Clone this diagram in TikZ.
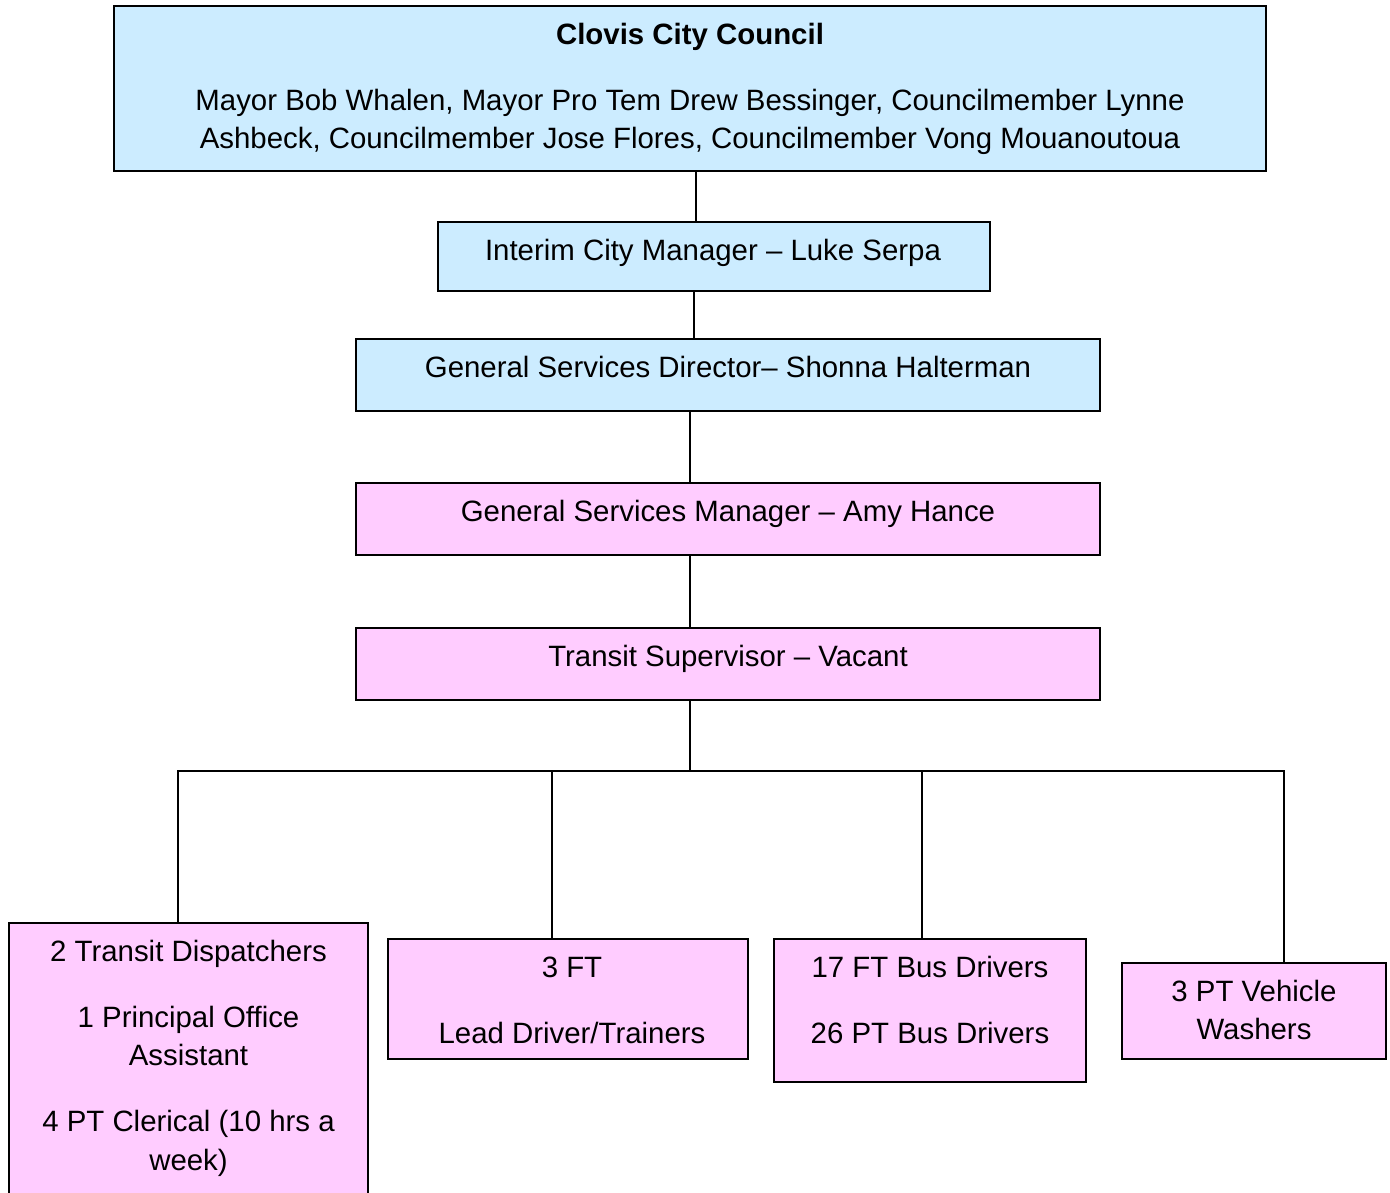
\documentclass[tikz,border=0pt]{standalone}
\usepackage{fontspec}
\setmainfont{Liberation Sans}
\definecolor{boxblue}{HTML}{CCECFF}
\definecolor{boxpink}{HTML}{FFCCFF}
\newcommand{\firststrut}{\rule{0pt}{30pt}}
\begin{document}
\begin{tikzpicture}[x=1pt,y=-1pt,
  orgbox/.style={draw=black, line width=2pt, inner sep=0pt, rectangle},
  bluebox/.style={orgbox, fill=boxblue},
  pinkbox/.style={orgbox, fill=boxpink},
  txt/.style={anchor=north, inner sep=0pt, align=center, font=\fontsize{29.4}{38.5}\selectfont},
  conn/.style={draw=black, line width=2pt}]
\useasboundingbox (0,0) rectangle (1390,1192);
\fill[white] (0,0) rectangle (1390,1192);

% boxes
\node[bluebox, minimum width=1152pt, minimum height=165pt] (council) at (690,88.5) {};
\node[bluebox, minimum width=552pt, minimum height=69pt] (interim) at (714,256.5) {};
\node[bluebox, minimum width=744pt, minimum height=72pt] (gsd) at (728,375) {};
\node[pinkbox, minimum width=744pt, minimum height=72pt] (gsm) at (728,519) {};
\node[pinkbox, minimum width=744pt, minimum height=72pt] (ts) at (728,664) {};
\node[pinkbox, minimum width=359pt, minimum height=287pt] (b1) at (188.5,1066.5) {};
\node[pinkbox, minimum width=360pt, minimum height=120pt] (b2) at (568,999) {};
\node[pinkbox, minimum width=312pt, minimum height=143pt] (b3) at (930,1010.5) {};
\node[pinkbox, minimum width=264pt, minimum height=96pt] (b4) at (1254,1011) {};

% texts
\node[txt] (tcouncil) at ([yshift=-9pt]council.north) {\firststrut\textbf{Clovis City Council}\\[27.5pt]
Mayor Bob Whalen, Mayor Pro Tem Drew Bessinger, Councilmember Lynne\\
Ashbeck, Councilmember Jose Flores, Councilmember Vong Mouanoutoua};
\node[txt] (tinterim) at ([yshift=-9pt,xshift=-1pt]interim.north) {\firststrut Interim City Manager – Luke Serpa};
\node[txt] (tgsd) at ([yshift=-9pt]gsd.north) {\firststrut General Services Director– Shonna Halterman};
\node[txt] (tgsm) at ([yshift=-9pt]gsm.north) {\firststrut General Services Manager – Amy Hance};
\node[txt] (tts) at ([yshift=-9pt]ts.north) {\firststrut Transit Supervisor – Vacant};
\node[txt] (tb1) at ([yshift=-9pt]b1.north) {\firststrut 2 Transit Dispatchers\\[27.5pt]
1 Principal Office\\ Assistant\\[27.5pt]
4 PT Clerical (10 hrs a\\ week)};
\node[txt] (tb2) at ([yshift=-9pt,xshift=4pt]b2.north) {\firststrut 3 FT\\[27.5pt] Lead Driver/Trainers};
\node[txt] (tb3) at ([yshift=-9pt]b3.north) {\firststrut 17 FT Bus Drivers\\[27.5pt] 26 PT Bus Drivers};
\node[txt] (tb4) at ([yshift=-9pt]b4.north) {\firststrut 3 PT Vehicle\\ Washers};

% connector guides
\coordinate (x1) at (696,0);
\coordinate (x2) at (694,0);
\coordinate (x3) at (690,0);
\coordinate (bus) at (690,771);
\coordinate (busl) at (178,771);
\coordinate (busr) at (1284,771);
\coordinate (d2) at (552,771);
\coordinate (d3) at (922,771);

\draw[conn] (council.south -| x1) -- (interim.north -| x1);
\draw[conn] (interim.south -| x2) -- (gsd.north -| x2);
\draw[conn] (gsd.south -| x3) -- (gsm.north -| x3);
\draw[conn] (gsm.south -| x3) -- (ts.north -| x3);
\draw[conn] (ts.south -| x3) -- (bus);
\draw[conn, line cap=rect] (busl) -- (busr);
\draw[conn] (busl) -- (b1.north -| busl);
\draw[conn] (d2) -- (b2.north -| d2);
\draw[conn] (d3) -- (b3.north -| d3);
\draw[conn] (busr) -- (b4.north -| busr);
\end{tikzpicture}
\end{document}
